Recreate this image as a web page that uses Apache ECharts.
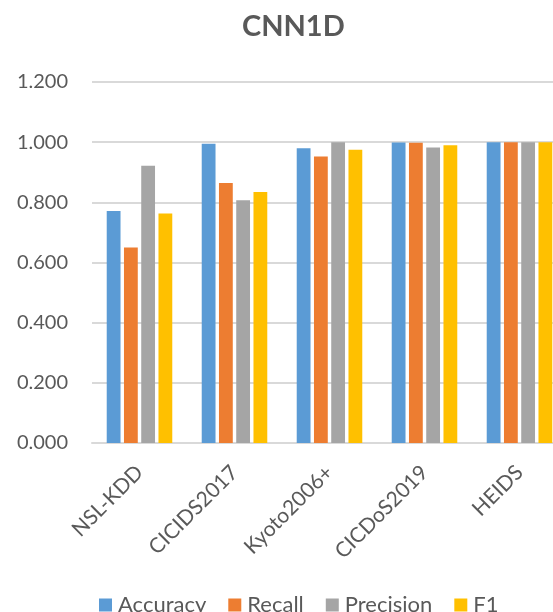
<!DOCTYPE html>
<html>
<head>
<meta charset="utf-8">
<script src="https://cdn.jsdelivr.net/npm/echarts@6/dist/echarts.min.js"></script>
<style>
  html, body { margin: 0; padding: 0; background: #fff; }
  #main { width: 553px; height: 612px; }
</style>
</head>
<body>
<div id="main"></div>
<script>
var categories = ['NSL-KDD', 'CICIDS2017', 'Kyoto2006+', 'CICDoS2019', 'HEIDS'];
var accuracy = [0.771, 0.995, 0.980, 0.999, 1.000];
var recall = [0.650, 0.864, 0.952, 0.998, 1.000];
var precision = [0.922, 0.807, 1.000, 0.982, 1.000];
var f1 = [0.763, 0.834, 0.975, 0.990, 1.000];

window.onload = function () {
  var myChart = echarts.init(document.getElementById('main'));
  var font = 'Lato';
  var textColor = '#595959';

  var option = {
    animation: false,
    title: {
      text: 'CNN1D',
      left: 242,
      top: 12,
      padding: 0,
      textStyle: { fontFamily: font, fontSize: 29, fontWeight: 'bold', color: textColor }
    },
    legend: {
      left: 99,
      top: 594,
      padding: 0,
      icon: 'rect',
      itemWidth: 13,
      itemHeight: 13,
      itemGap: 22,
      textStyle: { fontFamily: font, fontSize: 22, color: textColor, padding: [0, 0, 0, 1] },
      data: ['Accuracy', 'Recall', 'Precision', 'F1']
    },
    grid: {
      left: 92,
      right: -14,
      top: 82,
      bottom: 169,
      containLabel: false,
      outerBoundsMode: 'none'
    },
    xAxis: {
      type: 'category',
      data: categories,
      axisLine: { lineStyle: { color: '#D9D9D9', width: 2 } },
      axisTick: { show: false },
      axisLabel: {
        interval: 0,
        rotate: 45,
        margin: 26,
        fontFamily: font,
        fontSize: 21,
        color: textColor
      }
    },
    yAxis: {
      type: 'value',
      min: 0,
      max: 1.2,
      interval: 0.2,
      axisLine: { show: false },
      axisTick: { show: false },
      splitLine: { lineStyle: { color: '#D9D9D9', width: 2 } },
      axisLabel: {
        margin: 24,
        fontFamily: font,
        fontSize: 20,
        color: textColor,
        formatter: function (v) { return v.toFixed(3); }
      }
    },
    series: [
      { name: 'Accuracy', type: 'bar', data: accuracy, barGap: '25%', barCategoryGap: '31%', itemStyle: { color: '#5B9BD5' } },
      { name: 'Recall', type: 'bar', data: recall, itemStyle: { color: '#ED7D31' } },
      { name: 'Precision', type: 'bar', data: precision, itemStyle: { color: '#A5A5A5' } },
      { name: 'F1', type: 'bar', data: f1, itemStyle: { color: '#FFC000' } }
    ]
  };

  myChart.setOption(option);
};
</script>
</body>
</html>
